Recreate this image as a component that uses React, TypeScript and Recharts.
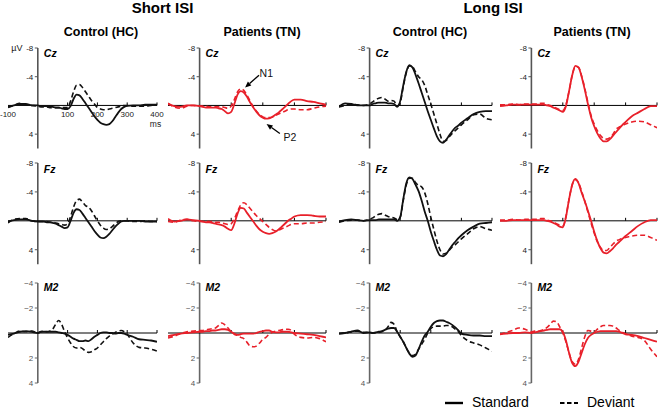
import React from "react";
import { LineChart, Line, XAxis, YAxis, ReferenceLine, ReferenceDot } from "recharts";

// sample times (ms): 20 ms steps before stimulus and after 300 ms, 10 ms in between
const TIMES = [
  -100, -80, -60, -40, -20, 0,
  10, 20, 30, 40, 50, 60, 70, 80, 90, 100,
  110, 120, 130, 140, 150, 160, 170, 180, 190, 200,
  210, 220, 230, 240, 250, 260, 270, 280, 290, 300,
  320, 340, 360, 380, 400,
];

// ---- Short ISI, Control (HC)
const shortHcCzStd = [0.2, 0.0, -0.2, -0.2, 0.0, 0.0, 0.1, 0.1, 0.1, 0.1, 0.2, 0.3, 0.3, 0.4, 0.5, 0.5, 0.1, -0.9, -1.5, -1.4, -0.9, -0.3, 0.3, 0.9, 1.5, 2.0, 2.4, 2.6, 2.7, 2.6, 2.2, 1.6, 1.0, 0.5, 0.2, 0.05, 0.0, 0.0, -0.1, -0.1, -0.1];
const shortHcCzDev = [0.3, 0.0, -0.3, -0.1, 0.0, 0.1, 0.2, 0.2, 0.2, 0.3, 0.3, 0.3, 0.3, 0.3, 0.3, 0.3, -0.6, -1.9, -2.8, -2.9, -2.5, -1.9, -1.3, -0.7, -0.2, 0.3, 0.5, 0.6, 0.6, 0.5, 0.4, 0.3, 0.2, 0.1, 0.0, 0.0, 0.1, 0.1, 0.1, 0.0, -0.1];
const shortHcFzStd = [0.1, -0.1, -0.2, -0.2, 0.0, 0.1, 0.1, 0.1, 0.2, 0.2, 0.3, 0.4, 0.6, 0.8, 1.0, 0.9, 0.0, -1.1, -1.6, -1.5, -1.0, -0.4, 0.2, 0.8, 1.4, 1.9, 2.3, 2.4, 2.2, 1.8, 1.3, 0.8, 0.4, 0.1, 0.0, 0.0, 0.0, 0.0, 0.1, 0.1, 0.1];
const shortHcFzDev = [0.3, -0.2, -0.3, -0.3, 0.0, 0.1, 0.1, 0.1, 0.1, 0.2, 0.2, 0.3, 0.4, 0.5, 0.6, 0.4, -0.6, -1.9, -2.8, -3.0, -2.6, -2.1, -1.9, -1.4, -0.7, 0.0, 0.6, 1.0, 1.2, 1.1, 0.8, 0.4, 0.1, 0.0, 0.0, 0.0, 0.1, 0.1, 0.0, 0.1, 0.1];
const shortHcM2Std = [0.15, 0.05, -0.1, -0.15, -0.1, 0.0, -0.1, -0.1, -0.1, -0.1, -0.1, -0.1, -0.05, 0.0, 0.05, 0.15, 0.3, 0.45, 0.55, 0.65, 0.65, 0.6, 0.65, 0.5, 0.3, 0.15, 0.0, -0.05, -0.05, 0.0, 0.0, 0.05, 0.0, 0.0, 0.05, 0.15, 0.3, 0.5, 0.55, 0.6, 0.7];
const shortHcM2Dev = [0.35, 0.05, -0.15, -0.1, -0.15, 0.0, -0.1, -0.15, -0.1, -0.15, -0.3, -0.7, -1.0, -0.7, -0.1, 0.4, 0.8, 1.1, 1.2, 1.15, 1.25, 1.45, 1.55, 1.5, 1.35, 1.2, 0.95, 0.7, 0.45, 0.25, 0.1, -0.05, -0.15, -0.2, -0.1, 0.1, 0.8, 1.15, 1.2, 1.3, 1.45];

// ---- Short ISI, Patients (TN)
const shortTnCzStd = [-0.2, 0.1, 0.2, 0.0, 0.0, 0.1, 0.2, 0.3, 0.3, 0.3, 0.3, 0.4, 0.5, 0.8, 1.1, 0.9, -0.2, -1.5, -2.0, -1.8, -1.2, -0.4, 0.3, 0.9, 1.4, 1.7, 1.85, 1.8, 1.6, 1.3, 1.0, 0.6, 0.2, -0.2, -0.6, -0.8, -0.8, -0.6, -0.5, -0.3, -0.1];
const shortTnCzDev = [-0.3, 0.2, 0.4, 0.1, 0.0, 0.1, 0.1, 0.1, 0.2, 0.2, 0.2, 0.2, 0.2, 0.3, 0.4, 0.1, -0.8, -1.9, -2.3, -2.1, -1.4, -0.6, 0.2, 0.8, 1.3, 1.6, 1.7, 1.7, 1.6, 1.4, 1.2, 1.0, 0.8, 0.6, 0.5, 0.5, 0.6, 0.6, 0.4, 0.2, 0.1];
const shortTnFzStd = [-0.3, 0.1, 0.0, -0.2, -0.1, 0.0, 0.1, 0.2, 0.2, 0.3, 0.4, 0.5, 0.6, 0.8, 1.1, 1.3, 0.4, -1.0, -1.8, -1.7, -1.1, -0.5, 0.1, 0.7, 1.2, 1.5, 1.7, 1.8, 1.7, 1.5, 1.2, 0.8, 0.4, 0.0, -0.3, -0.6, -0.8, -0.8, -0.7, -0.6, -0.6];
const shortTnFzDev = [0.1, 0.2, -0.1, -0.2, 0.0, 0.1, 0.1, 0.0, 0.1, 0.1, 0.2, 0.2, 0.3, 0.4, 0.5, 0.4, -0.3, -1.3, -2.2, -2.5, -2.2, -1.7, -1.2, -0.7, -0.3, 0.1, 0.5, 0.9, 1.2, 1.4, 1.3, 1.1, 0.9, 0.7, 0.5, 0.4, 0.4, 0.3, 0.3, 0.2, 0.1];
const shortTnM2Std = [0.25, 0.15, 0.05, 0.0, -0.05, -0.1, -0.1, -0.15, -0.15, -0.2, -0.2, -0.25, -0.3, -0.3, -0.25, -0.1, 0.05, 0.15, 0.1, 0.05, 0.05, 0.05, 0.05, 0.0, -0.1, -0.15, -0.2, -0.2, -0.1, -0.05, -0.05, -0.1, -0.1, -0.1, -0.05, 0.0, 0.05, 0.1, 0.15, 0.25, 0.35];
const shortTnM2Dev = [0.4, 0.25, 0.05, -0.1, -0.15, -0.2, -0.2, -0.25, -0.3, -0.35, -0.4, -0.6, -0.8, -0.65, -0.4, -0.1, 0.1, 0.2, 0.35, 0.45, 0.75, 1.05, 1.1, 1.05, 0.8, 0.5, 0.35, 0.1, -0.05, -0.15, -0.2, -0.25, -0.3, -0.3, -0.2, 0.1, 0.35, 0.4, 0.35, 0.45, 0.7];

// ---- Long ISI, Control (HC)
const longHcCzStd = [0.2, -0.3, -0.2, 0.0, 0.0, 0.0, -0.2, -0.3, -0.4, -0.4, -0.4, -0.3, -0.3, -0.2, 0.2, -0.6, -2.8, -4.7, -5.6, -5.3, -4.3, -3.1, -1.8, -0.5, 0.8, 2.0, 3.2, 4.3, 5.0, 5.2, 4.8, 4.2, 3.6, 3.1, 2.8, 2.4, 1.8, 1.2, 0.9, 0.8, 0.8];
const longHcCzDev = [0.2, 0.0, -0.2, -0.1, 0.0, -0.2, -0.5, -0.8, -1.0, -1.1, -0.9, -0.6, -0.7, -0.6, 0.1, -0.4, -2.6, -4.6, -5.5, -5.4, -4.7, -4.0, -3.6, -2.8, -1.5, -0.2, 1.2, 2.6, 4.0, 5.0, 4.9, 4.4, 3.9, 3.5, 3.1, 2.7, 2.0, 1.3, 1.2, 1.8, 2.0];
const longHcFzStd = [0.1, -0.1, -0.2, -0.1, 0.0, -0.1, -0.1, -0.1, -0.2, -0.2, -0.2, -0.2, -0.2, -0.2, 0.0, -0.5, -3.0, -5.2, -6.0, -5.8, -5.0, -4.1, -2.8, -1.3, 0.0, 1.5, 2.8, 4.0, 4.8, 4.9, 4.6, 4.0, 3.4, 2.9, 2.4, 2.0, 1.3, 0.8, 0.4, 0.3, 0.2];
const longHcFzDev = [0.2, 0.0, -0.1, -0.1, 0.0, -0.2, -0.4, -0.7, -0.9, -1.0, -0.8, -0.6, -0.5, -0.4, -0.2, -0.5, -2.8, -5.0, -5.9, -5.9, -5.3, -4.9, -4.7, -3.9, -2.4, -0.5, 1.2, 2.8, 4.0, 4.6, 4.5, 4.1, 3.6, 3.3, 2.9, 2.5, 1.8, 1.1, 0.8, 1.1, 1.3];
const longHcM2Std = [0.05, 0.0, -0.1, -0.2, 0.0, -0.05, 0.0, -0.05, -0.1, -0.15, -0.25, -0.35, -0.4, -0.4, -0.1, 0.3, 0.7, 1.2, 1.65, 1.9, 1.8, 1.3, 0.7, 0.2, -0.1, -0.5, -0.8, -0.95, -1.0, -1.0, -0.9, -0.8, -0.65, -0.45, -0.2, 0.05, 0.15, 0.2, 0.2, 0.25, 0.25];
const longHcM2Dev = [0.05, 0.0, -0.1, -0.15, -0.05, -0.05, 0.0, 0.0, -0.05, -0.1, -0.2, -0.5, -0.85, -0.7, -0.1, 0.3, 0.7, 1.2, 1.6, 1.8, 1.7, 1.3, 0.9, 0.5, 0.0, -0.35, -0.5, -0.55, -0.55, -0.55, -0.6, -0.6, -0.5, -0.3, -0.1, 0.2, 0.6, 0.8, 0.95, 1.2, 1.45];

// ---- Long ISI, Patients (TN)
const longTnCzStd = [0.1, 0.0, -0.1, -0.1, -0.1, -0.1, -0.1, -0.1, -0.1, -0.1, 0.0, 0.1, 0.3, 0.5, 0.7, 0.9, 0.1, -2.0, -4.2, -5.5, -5.3, -4.0, -2.2, -0.2, 1.6, 2.9, 3.9, 4.6, 5.0, 5.0, 4.7, 4.2, 3.7, 3.2, 2.7, 2.3, 1.5, 1.0, 0.5, 0.1, 0.1];
const longTnCzDev = [-0.1, -0.1, -0.2, -0.1, -0.2, -0.2, -0.2, -0.2, -0.3, -0.3, -0.1, 0.0, 0.2, 0.4, 0.6, 0.7, -0.1, -2.0, -4.2, -5.4, -5.3, -4.1, -2.4, -0.4, 1.4, 2.6, 3.5, 4.2, 4.6, 4.7, 4.5, 4.0, 3.3, 3.0, 2.8, 2.6, 2.3, 2.2, 2.3, 2.7, 3.1];
const longTnFzStd = [0.0, 0.0, -0.1, -0.1, -0.1, -0.1, -0.1, -0.1, -0.1, -0.1, 0.0, 0.1, 0.3, 0.5, 0.8, 0.9, -0.5, -3.0, -5.0, -5.8, -5.2, -3.9, -2.7, -1.4, 0.0, 1.5, 2.8, 3.8, 4.4, 4.5, 4.2, 3.8, 3.3, 2.9, 2.5, 2.1, 1.4, 0.7, 0.2, -0.1, -0.1];
const longTnFzDev = [-0.1, -0.1, -0.2, -0.1, -0.2, -0.2, -0.2, -0.2, -0.3, -0.3, -0.1, 0.0, 0.2, 0.4, 0.6, 0.7, -0.6, -3.0, -5.0, -5.7, -5.3, -4.1, -2.7, -1.2, 0.3, 1.7, 2.9, 3.7, 4.1, 4.1, 3.7, 3.2, 2.8, 2.6, 2.4, 2.3, 2.1, 2.0, 2.0, 2.3, 2.7];
const longTnM2Std = [0.1, 0.05, 0.0, 0.0, -0.05, 0.0, -0.05, -0.1, -0.15, -0.2, -0.25, -0.3, -0.3, -0.3, -0.3, -0.1, 0.6, 1.6, 2.4, 2.65, 2.3, 1.6, 0.9, 0.4, 0.15, 0.0, -0.1, -0.15, -0.15, -0.15, -0.15, -0.15, -0.15, -0.1, 0.0, 0.1, 0.15, 0.25, 0.4, 0.55, 0.7];
const longTnM2Dev = [0.1, -0.05, -0.2, -0.4, -0.3, -0.1, -0.15, -0.15, -0.2, -0.3, -0.45, -0.7, -0.95, -0.9, -0.5, 0.0, 0.7, 1.6, 2.3, 2.5, 2.1, 1.2, 0.3, -0.2, -0.15, -0.1, -0.3, -0.5, -0.6, -0.6, -0.6, -0.55, -0.4, -0.2, -0.05, 0.05, 0.25, 0.35, 0.6, 1.3, 1.9];

const X_LABELS = [-100, 100, 200, 300, 400];
const X_TICKS = [100, 200, 300, 400];
const CHANNELS = ["Cz", "Fz", "M2"];
const ISI_TITLES = ["Short ISI", "Long ISI"];
const GROUP_TITLES = ["Control (HC)", "Patients (TN)", "Control (HC)", "Patients (TN)"];

const BLACK = "#111";
const RED = "#e8202a";

// layout of the plot areas on the page (x: -100..400 ms)
const COLS = [
  { left: 8, right: 157 },
  { left: 168, right: 326 },
  { left: 339, right: 492 },
  { left: 500, right: 657 },
];
const ROWS = [
  { top: 47.5, bottom: 148, domain: [-8, 6], ticks: [-8, -4, 4], chanY: -7.2, minus: "-" },
  { top: 163.3, bottom: 264.5, domain: [-8, 6], ticks: [-8, -4, 4], chanY: -7.2, minus: "-" },
  { top: 283, bottom: 383, domain: [-4, 4], ticks: [-4, -2, 2, 4], chanY: -3.65, minus: "\u2212" },
];
const M = { top: 8, right: 8, bottom: 4, left: 14 };

const PANELS = [
  { row: 0, col: 0, std: shortHcCzStd, dev: shortHcCzDev },
  { row: 0, col: 1, std: shortTnCzStd, dev: shortTnCzDev },
  { row: 0, col: 2, std: longHcCzStd, dev: longHcCzDev },
  { row: 0, col: 3, std: longTnCzStd, dev: longTnCzDev },
  { row: 1, col: 0, std: shortHcFzStd, dev: shortHcFzDev },
  { row: 1, col: 1, std: shortTnFzStd, dev: shortTnFzDev },
  { row: 1, col: 2, std: longHcFzStd, dev: longHcFzDev },
  { row: 1, col: 3, std: longTnFzStd, dev: longTnFzDev },
  { row: 2, col: 0, std: shortHcM2Std, dev: shortHcM2Dev },
  { row: 2, col: 1, std: shortTnM2Std, dev: shortTnM2Dev },
  { row: 2, col: 2, std: longHcM2Std, dev: longHcM2Dev },
  { row: 2, col: 3, std: longTnM2Std, dev: longTnM2Dev },
];

function Arrow(props: any) {
  const { x1, y1, x2, y2 } = props;
  const ang = Math.atan2(y2 - y1, x2 - x1);
  const L = 6;
  const W = 2.6;
  const bx = x2 - L * Math.cos(ang);
  const by = y2 - L * Math.sin(ang);
  const px = -Math.sin(ang) * W;
  const py = Math.cos(ang) * W;
  return (
    <g>
      <line x1={x1} y1={y1} x2={bx} y2={by} stroke="#000" strokeWidth={1.3} />
      <polygon points={`${x2},${y2} ${bx + px},${by + py} ${bx - px},${by - py}`} fill="#000" />
    </g>
  );
}

function Panel({ row, col, std, dev }: any) {
  const c = COLS[col];
  const r = ROWS[row];
  const red = col === 1 || col === 3;
  const color = red ? RED : BLACK;
  const w = c.right - c.left + M.left + M.right;
  const h = r.bottom - r.top + M.top + M.bottom;
  const pxPerMs = (c.right - c.left) / 500;
  const pxPerUv = (r.bottom - r.top) / (r.domain[1] - r.domain[0]);
  const tickMs = 3 / pxPerMs;
  const tickUv = 3 / pxPerUv;
  const data = TIMES.map((t, i) => ({ t, s: std[i], d: dev[i] }));
  const axisColor = row === 2 ? "#666" : "#555";
  const first = row === 0 && col === 0;
  const annotate = row === 0 && col === 1;

  return (
    <div style={{ position: "absolute", left: c.left - M.left, top: r.top - M.top }}>
      <LineChart width={w} height={h} data={data} margin={M}>
        <XAxis type="number" dataKey="t" domain={[-100, 400]} hide allowDataOverflow />
        <YAxis type="number" domain={r.domain} reversed hide allowDataOverflow />
        <ReferenceLine x={0} stroke={axisColor} strokeWidth={1.6} />
        <ReferenceLine y={0} stroke="#000" strokeWidth={1} />
        {X_TICKS.map((t) => (
          <ReferenceLine key={"xt" + t} segment={[{ x: t, y: 0 }, { x: t, y: -tickUv }]} stroke="#000" strokeWidth={1} />
        ))}
        {r.ticks.map((v) => (
          <ReferenceLine key={"yt" + v} segment={[{ x: -tickMs, y: v }, { x: 0, y: v }]} stroke={axisColor} strokeWidth={1} />
        ))}
        {r.ticks.map((v) => (
          <ReferenceDot
            key={"yl" + v}
            x={-tickMs}
            y={v}
            r={0}
            fill="none"
            stroke="none"
            label={{
              value: v < 0 ? r.minus + Math.abs(v) : String(v),
              position: "left",
              offset: 1.5,
              fontSize: 8,
              fill: row === 2 ? "#555" : "#222",
            }}
          />
        ))}
        <ReferenceDot
          x={6 / pxPerMs}
          y={r.chanY}
          r={0}
          fill="none"
          stroke="none"
          label={{ value: CHANNELS[row], position: "right", offset: 0, fontSize: 10.5, fontWeight: "bold", fontStyle: "italic", fill: "#000" }}
        />
        {first &&
          X_LABELS.map((t) => (
            <ReferenceDot
              key={"xl" + t}
              x={t}
              y={1.15}
              r={0}
              fill="none"
              stroke="none"
              label={{ value: String(t), position: "center", fontSize: 8, fill: "#222" }}
            />
          ))}
        {first && (
          <ReferenceDot x={395} y={2.55} r={0} fill="none" stroke="none" label={{ value: "ms", position: "center", fontSize: 8.5, fill: "#222" }} />
        )}
        {first && (
          <ReferenceDot x={-70} y={-8} r={0} fill="none" stroke="none" label={{ value: "\u00b5V", position: "center", fontSize: 9, fill: "#222" }} />
        )}
        {annotate && <ReferenceLine segment={[{ x: 188, y: -4.2 }, { x: 144, y: -2.5 }]} shape={Arrow} />}
        {annotate && <ReferenceLine segment={[{ x: 254, y: 3.9 }, { x: 212, y: 2.6 }]} shape={Arrow} />}
        {annotate && (
          <ReferenceDot x={211} y={-4.45} r={0} fill="none" stroke="none" label={{ value: "N1", position: "center", fontSize: 10.5, fill: "#111" }} />
        )}
        {annotate && (
          <ReferenceDot x={286} y={4.45} r={0} fill="none" stroke="none" label={{ value: "P2", position: "center", fontSize: 10.5, fill: "#111" }} />
        )}
        <Line type="monotone" dataKey="d" stroke={color} strokeWidth={1.6} strokeDasharray="5 3" dot={false} isAnimationActive={false} />
        <Line type="monotone" dataKey="s" stroke={color} strokeWidth={1.8} dot={false} isAnimationActive={false} />
      </LineChart>
    </div>
  );
}

const titleStyle = (cx: number, top: number, size: number): React.CSSProperties => ({
  position: "absolute",
  left: cx - 100,
  width: 200,
  top,
  textAlign: "center",
  fontWeight: "bold",
  fontSize: size,
  lineHeight: `${size + 2}px`,
  color: "#000",
  whiteSpace: "nowrap",
});

export default function App() {
  return (
    <div
      style={{
        position: "absolute",
        left: 0,
        top: 0,
        width: 660,
        height: 409,
        overflow: "hidden",
        background: "#fff",
        fontFamily: "'Liberation Sans', Arial, sans-serif",
      }}
    >
      {ISI_TITLES.map((t, i) => (
        <div key={t} style={titleStyle(i === 0 ? 162.5 : 493, -1, 15)}>
          {t}
        </div>
      ))}
      {GROUP_TITLES.map((t, i) => (
        <div key={i} style={titleStyle([101, 262, 430, 592][i], 25, 12.5)}>
          {t}
        </div>
      ))}
      {PANELS.map((p, i) => (
        <Panel key={i} {...p} />
      ))}
      <svg style={{ position: "absolute", left: 440, top: 395 }} width={150} height={14}>
        <line x1={5} y1={8} x2={23} y2={8} stroke="#000" strokeWidth={2.4} />
        <line x1={120} y1={8} x2={138} y2={8} stroke="#000" strokeWidth={2} strokeDasharray="4.5 2.5" />
      </svg>
      <div style={{ position: "absolute", left: 472, top: 395, fontSize: 14, lineHeight: "15px" }}>Standard</div>
      <div style={{ position: "absolute", left: 587, top: 395, fontSize: 14, lineHeight: "15px" }}>Deviant</div>
    </div>
  );
}
